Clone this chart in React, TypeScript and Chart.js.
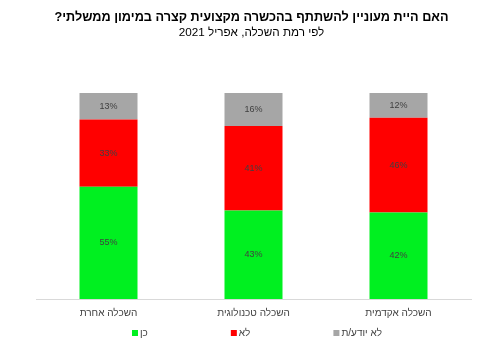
import React, { useEffect, useRef } from "react";
import { Chart, registerables } from "chart.js";

Chart.register(...registerables);

const titleText = "האם היית מעוניין להשתתף בהכשרה מקצועית קצרה במימון ממשלתי?";
const subtitleText = "לפי רמת השכלה, אפריל 2021";
const categories = ["השכלה אחרת", "השכלה טכנולוגית", "השכלה אקדמית"];
const seriesNames = ["כן", "לא", "לא יודע/ת"];
const yesValues = [55, 43, 42];
const noValues = [33, 41, 46];
const dontKnowValues = [13, 16, 12];
const seriesColors = ["#00F020", "#FF0000", "#A6A6A6"];

const FONT = "'Liberation Sans', Arial, sans-serif";

export default function App() {
  const ref = useRef<HTMLCanvasElement | null>(null);

  useEffect(() => {
    const canvas = ref.current;
    if (!canvas) return;
    const raw = [yesValues, noValues, dontKnowValues];
    const totals = categories.map((_, i) => raw.reduce((s, arr) => s + arr[i], 0));
    const datasets = raw.map((arr, di) => ({
      label: seriesNames[di],
      data: arr.map((v, i) => (v / totals[i]) * 100),
      backgroundColor: seriesColors[di],
      borderWidth: 0,
      categoryPercentage: 1,
      barPercentage: 0.4,
    }));

    const overlay = {
      id: "overlay",
      afterDatasetsDraw(chart: any) {
        const ctx = chart.ctx;
        ctx.save();
        ctx.font = `9px ${FONT}`;
        ctx.fillStyle = "#404040";
        ctx.textAlign = "center";
        ctx.textBaseline = "middle";
        chart.data.datasets.forEach((ds: any, di: number) => {
          const meta = chart.getDatasetMeta(di);
          meta.data.forEach((el: any, i: number) => {
            const y = (el.y + el.base) / 2;
            ctx.fillText(`${raw[di][i]}%`, el.x, y);
          });
        });
        ctx.restore();
      },
      afterDraw(chart: any) {
        const ctx = chart.ctx;
        const w = chart.width;
        ctx.save();
        ctx.direction = "rtl";
        ctx.textAlign = "center";
        ctx.textBaseline = "middle";
        ctx.fillStyle = "#000000";
        ctx.font = `bold 12.7px ${FONT}`;
        ctx.fillText(titleText, w / 2, 17);
        ctx.font = `11.7px ${FONT}`;
        ctx.fillText(subtitleText, w / 2, 33);
        ctx.restore();

        // legend
        ctx.save();
        ctx.font = `10px ${FONT}`;
        ctx.textBaseline = "middle";
        ctx.textAlign = "left";
        const box = 6;
        const gapBox = 2;
        const gapItem = 83;
        const widths = seriesNames.map((n) => box + gapBox + ctx.measureText(n).width);
        const total = widths.reduce((a, b) => a + b, 0) + gapItem * (seriesNames.length - 1);
        const ca = chart.chartArea;
        let x = (ca.left + ca.right) / 2 - total / 2 + 3.5;
        const y = 333;
        seriesNames.forEach((n, i) => {
          ctx.fillStyle = seriesColors[i];
          ctx.fillRect(x, y - box / 2, box, box);
          ctx.fillStyle = "#404040";
          ctx.fillText(n, x + box + gapBox, y);
          x += widths[i] + gapItem;
        });
        ctx.restore();
      },
    };

    const chart = new Chart(canvas, {
      type: "bar",
      data: { labels: categories, datasets },
      options: {
        animation: false,
        responsive: false,
        maintainAspectRatio: false,
        layout: { padding: { top: 93, left: 36, right: 32, bottom: 20 } },
        plugins: {
          legend: { display: false },
          title: { display: false },
          tooltip: { enabled: false },
        },
        scales: {
          x: {
            stacked: true,
            grid: { display: false, drawTicks: false },
            border: { display: true, color: "#D9D9D9", width: 1 },
            ticks: { color: "#404040", font: { family: FONT, size: 10 }, padding: 8 },
          },
          y: {
            stacked: true,
            display: false,
            min: 0,
            max: 100,
          },
        },
      },
      plugins: [overlay],
    });
    return () => chart.destroy();
  }, []);

  return (
    <div style={{ position: "absolute", left: 0, top: 0, width: 503, height: 347, background: "#fff" }}>
      <canvas ref={ref} width={503} height={347} style={{ width: 503, height: 347 }} />
    </div>
  );
}
